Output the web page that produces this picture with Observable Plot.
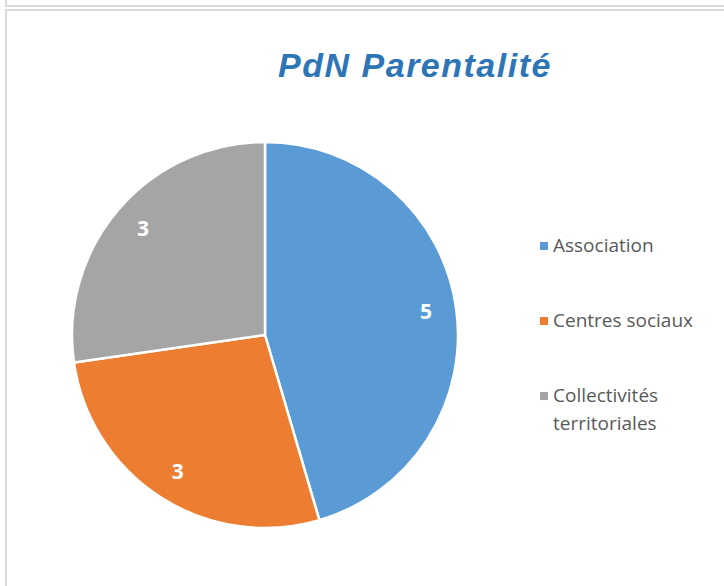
<!DOCTYPE html>
<html>
<head>
<meta charset="utf-8">
<script src="https://cdn.jsdelivr.net/npm/d3@7"></script>
<script src="https://cdn.jsdelivr.net/npm/@observablehq/plot@0.6"></script>
<style>
  html, body { margin: 0; padding: 0; background: #fff; }
  #wrap { position: relative; width: 724px; height: 586px; overflow: hidden; background: #fff; }
  .frame { position: absolute; border: 2px solid #d9d9d9; box-sizing: border-box; }
  #title { position: absolute; left: 0; width: 830px; top: 46px; text-align: center;
    font-family: "Liberation Sans", Arial, sans-serif; font-weight: bold; font-style: italic;
    font-size: 34px; letter-spacing: 1.5px; color: #2e75b6; }
  #chart { position: absolute; left: 0; top: 100px; }
  #legend { position: absolute; left: 540px; top: 231px; font-family: "Open Sans", sans-serif;
    font-size: 19px; color: #595959; }
  .item { display: flex; align-items: flex-start; line-height: 28px; }
  .sw { width: 8px; height: 8px; margin-top: 11px; margin-right: 5px; flex: none; }
</style>
</head>
<body>
<div id="wrap">
  <div class="frame" style="left:5px; top:-20px; width:800px; height:27px;"></div>
  <div class="frame" style="left:5px; top:9px; width:800px; height:700px;"></div>
  <div id="title">PdN Parentalité</div>
  <div id="chart"></div>
  <div id="legend"></div>
</div>
<script>
const categories = ["Association", "Centres sociaux", "Collectivités territoriales"];
const legendLines = [["Association"], ["Centres sociaux"], ["Collectivités", "territoriales"]];
const values = [5, 3, 3];
const colors = ["#5b9bd5", "#ed7d31", "#a5a5a5"];

const data = categories.map((c, i) => ({category: c, value: values[i]}));
const arcs = d3.pie().sort(null).value(d => d.value)(data);
const colorOf = c => colors[categories.indexOf(c)];

const labelR = 0.84;
const labels = arcs.map(a => {
  const m = (a.startAngle + a.endAngle) / 2;
  return {x: labelR * Math.sin(m), y: labelR * Math.cos(m), text: String(a.data.value)};
});

function slices(index, scales) {
  const cx = scales.x(0), cy = scales.y(0), r = scales.x(1) - cx;
  const arc = d3.arc().innerRadius(0).outerRadius(r);
  const g = d3.create("svg:g");
  g.selectAll("path").data(arcs).join("path")
    .attr("transform", `translate(${cx},${cy})`)
    .attr("d", arc)
    .attr("fill", d => colorOf(d.data.category))
    .attr("stroke", "white")
    .attr("stroke-width", 2.5)
    .attr("stroke-linejoin", "round");
  return g.node();
}

const plot = Plot.plot({
  width: 724,
  height: 486,
  marginLeft: 72,
  marginRight: 266,
  marginTop: 42,
  marginBottom: 58,
  x: {domain: [-1, 1], axis: null},
  y: {domain: [-1, 1], axis: null},
  style: {background: "transparent", fontFamily: "'Open Sans', sans-serif"},
  marks: [
    slices,
    Plot.text(labels, {x: "x", y: "y", text: "text", fill: "white", fontWeight: "bold", fontSize: 21})
  ]
});
document.getElementById("chart").appendChild(plot);

const legend = document.getElementById("legend");
legendLines.forEach((lines, i) => {
  const item = document.createElement("div");
  item.className = "item";
  item.style.marginBottom = i < legendLines.length - 1 ? "47px" : "0";
  const sw = document.createElement("div");
  sw.className = "sw";
  sw.style.background = colors[i];
  const t = document.createElement("div");
  t.innerHTML = lines.join("<br>");
  item.appendChild(sw);
  item.appendChild(t);
  legend.appendChild(item);
});
</script>
</body>
</html>
